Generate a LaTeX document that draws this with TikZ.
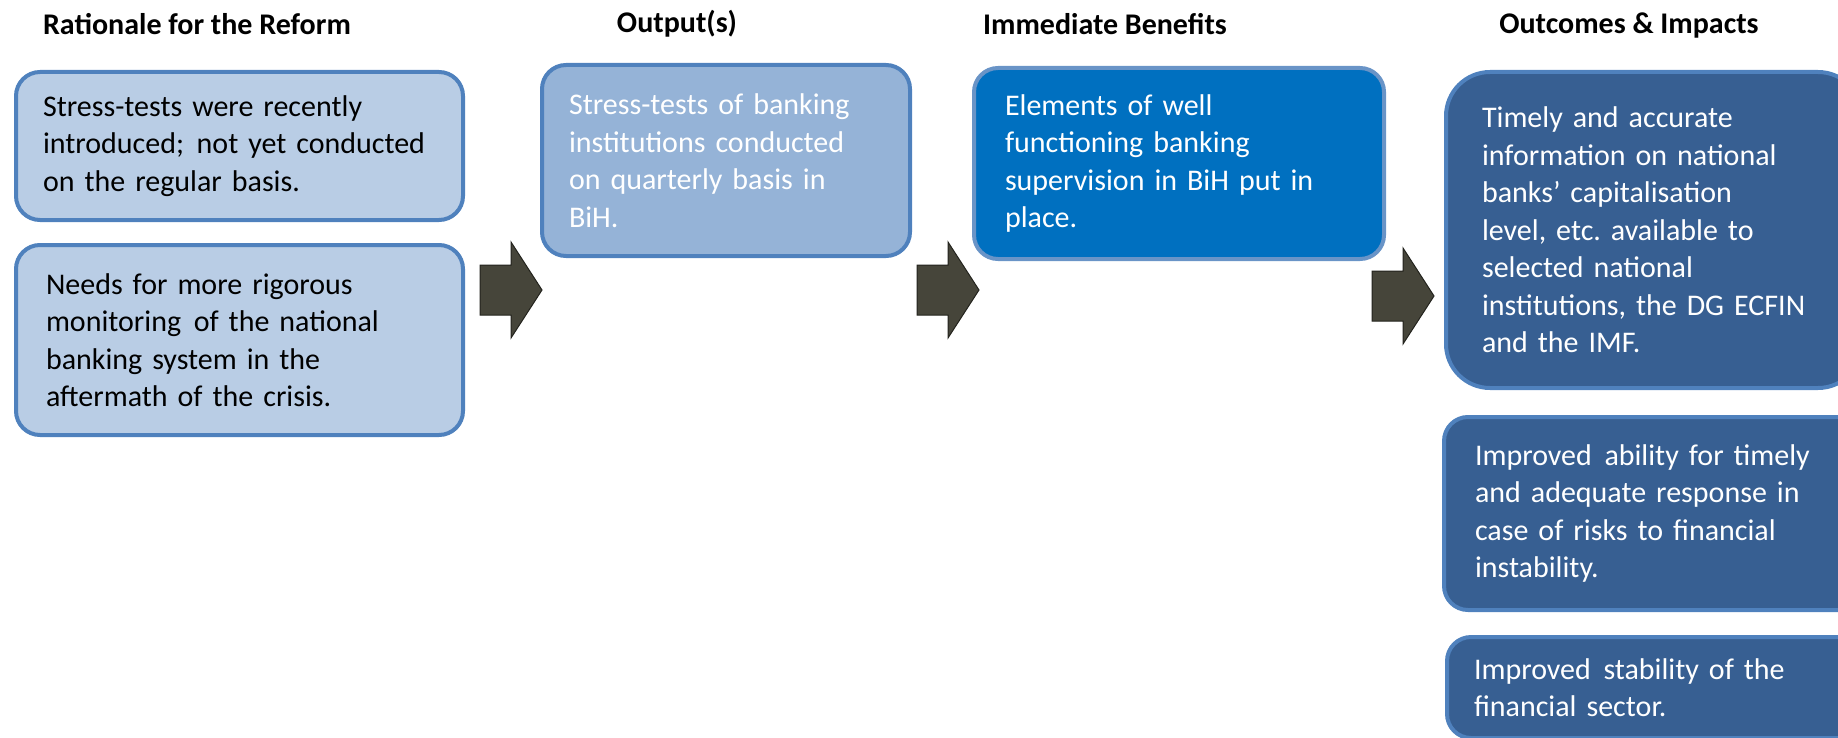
\documentclass[tikz,border=0pt]{standalone}
\usepackage{fontspec}
\setmainfont{Carlito}
\frenchspacing
\newcommand{\widegap}{\hspace{0.42em}}
\begin{document}
\definecolor{paleblue}{HTML}{B9CDE5}
\definecolor{midblue}{HTML}{95B3D7}
\definecolor{brightblue}{HTML}{0070C0}
\definecolor{deepblue}{HTML}{375F92}
\definecolor{edgeblue}{HTML}{4F81BD}
\definecolor{arrowfill}{HTML}{46453A}
\definecolor{arrowedge}{HTML}{23231D}
\begin{tikzpicture}[x=1pt,y=-1pt,
  heading/.style={font=\fontsize{30}{36}\selectfont\bfseries, inner sep=0pt, anchor=center},
  card/.style={draw=edgeblue, line width=4pt, rounded corners=24pt, anchor=north west,
    align=left, inner ysep=0pt, font=\fontsize{30}{37.5}\selectfont},
  lightcard/.style={card, fill=paleblue, text=black},
  outcard/.style={card, fill=midblue, text=white},
  benefitcard/.style={card, fill=brightblue, text=white, draw=edgeblue!85!white},
  impactcard/.style={card, fill=deepblue, text=white},
  blockarrow/.pic={
    \filldraw[fill=arrowfill, draw=arrowedge, line width=1pt]
      (0,-25) -- (31,-25) -- (31,-48) -- (62,0) -- (31,48) -- (31,25) -- (0,25) -- cycle;}
]
\clip (0,0) rectangle (1838,738);
\useasboundingbox (0,0) rectangle (1838,738);

% column headings
\node[heading] (h1) at (197,24) {Rationale for the Reform};
\node[heading] (h2) at (677,24) {Output(s)};
\node[heading] (h3) at (1105,24) {Immediate Benefits};
\node[heading] (h4) at (1629,26) {Outcomes \& Impacts};

% rationale
\node[lightcard, inner xsep=27pt, text width=393pt, minimum height=148pt] (r1) at (14,70)
  {Stress-tests were recently\\introduced;\widegap not yet conducted\\on the regular basis.};
\node[lightcard, inner xsep=30pt, text width=387pt, minimum height=190pt] (r2) at (14,243)
  {Needs for more rigorous\\monitoring\widegap of the national\\banking system in the\\aftermath of the crisis.};

% output
\node[outcard, inner xsep=27pt, text width=314pt, minimum height=191pt] (o1) at (540,63)
  {Stress-tests of banking\\institutions conducted\\on quarterly basis in\\BiH.};

% immediate benefits
\node[benefitcard, inner xsep=31pt, text width=348pt, minimum height=191pt] (b1) at (972,66)
  {Elements of well\\functioning banking\\supervision in BiH put in\\place.};

% outcomes and impacts
\node[impactcard, rounded corners=44pt, inner xsep=36pt, text width=344pt, minimum height=316pt] (i1) at (1444,70)
  {Timely and accurate\\information on national\\banks’ capitalisation\\level, etc. available to\\selected national\\institutions, the DG ECFIN\\and the IMF.};
\node[impactcard, inner xsep=31pt, text width=356pt, minimum height=193pt] (i2) at (1442,415)
  {Improved\widegap ability for timely\\and adequate response in\\case of risks to financial\\instability.};
\node[impactcard, inner xsep=27pt, text width=361pt, minimum height=101pt] (i3) at (1445,635)
  {Improved\widegap stability of the\\financial sector.};

% block arrows between the columns
\coordinate (a1) at (480,290);
\coordinate (a2) at (917,290);
\coordinate (a3) at (1372,296);
\pic at (a1) {blockarrow};
\pic at (a2) {blockarrow};
\pic at (a3) {blockarrow};
\end{tikzpicture}
\end{document}
